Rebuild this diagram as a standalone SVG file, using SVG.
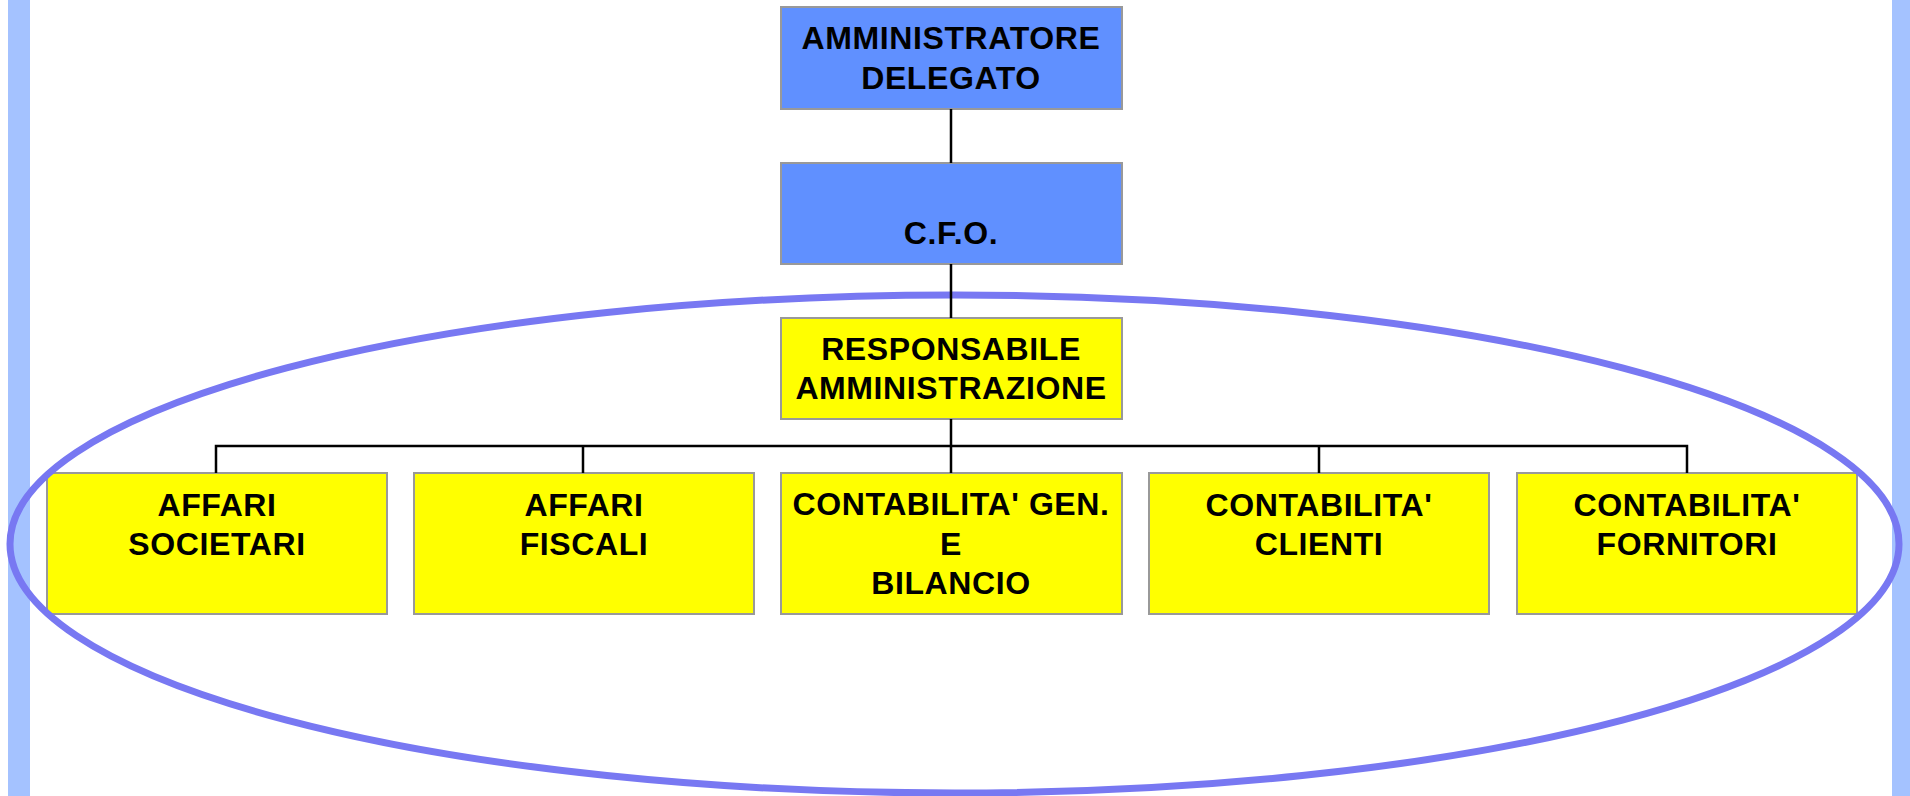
<svg xmlns="http://www.w3.org/2000/svg" width="1910" height="796" viewBox="0 0 1910 796">
<style>
.bar{fill:#a4c2ff}
.blue{fill:#6090ff;stroke:#999;stroke-width:2}
.yel{fill:#ffff00;stroke:#999;stroke-width:2}
.t{font-family:"Liberation Sans",Arial,sans-serif;font-weight:bold;font-size:32px;letter-spacing:0.6px;fill:#000;text-anchor:middle}
.c{stroke:#000;stroke-width:2.5;fill:none}
.ell{fill:none;stroke:#7878f2;stroke-width:7}
</style>
<rect width="1910" height="796" fill="#fff"/>
<rect class="bar" x="8" y="0" width="22" height="796"/>
<rect class="bar" x="1892" y="0" width="18" height="796"/>
<g id="n-ad"><rect class="blue" x="781" y="7" width="341" height="102"/><text class="t" x="951" y="49">AMMINISTRATORE</text><text class="t" x="951" y="89">DELEGATO</text></g>
<g id="n-cfo"><rect class="blue" x="781" y="163" width="341" height="101"/><text class="t" x="951" y="244">C.F.O.</text></g>
<g id="n-ra"><rect class="yel" x="781" y="318" width="341" height="101"/><text class="t" x="951" y="360">RESPONSABILE</text><text class="t" x="951" y="399">AMMINISTRAZIONE</text></g>
<g id="n-as"><rect class="yel" x="47" y="473" width="340" height="141"/><text class="t" x="217" y="516">AFFARI</text><text class="t" x="217" y="555">SOCIETARI</text></g>
<g id="n-af"><rect class="yel" x="414" y="473" width="340" height="141"/><text class="t" x="584" y="516">AFFARI</text><text class="t" x="584" y="555">FISCALI</text></g>
<g id="n-cgb"><rect class="yel" x="781" y="473" width="341" height="141"/><text class="t" x="951" y="515">CONTABILITA' GEN.</text><text class="t" x="951" y="555">E</text><text class="t" x="951" y="594">BILANCIO</text></g>
<g id="n-cc"><rect class="yel" x="1149" y="473" width="340" height="141"/><text class="t" x="1319" y="516">CONTABILITA'</text><text class="t" x="1319" y="555">CLIENTI</text></g>
<g id="n-cf"><rect class="yel" x="1517" y="473" width="340" height="141"/><text class="t" x="1687" y="516">CONTABILITA'</text><text class="t" x="1687" y="555">FORNITORI</text></g>
<ellipse id="highlight" class="ell" cx="954.5" cy="544" rx="944.5" ry="249"/>
<g id="connectors">
<path class="c" d="M951 109V163M951 264V318M951 419V473M216 473V446H1687V473M583 446V473M1319 446V473"/>
</g>
</svg>
